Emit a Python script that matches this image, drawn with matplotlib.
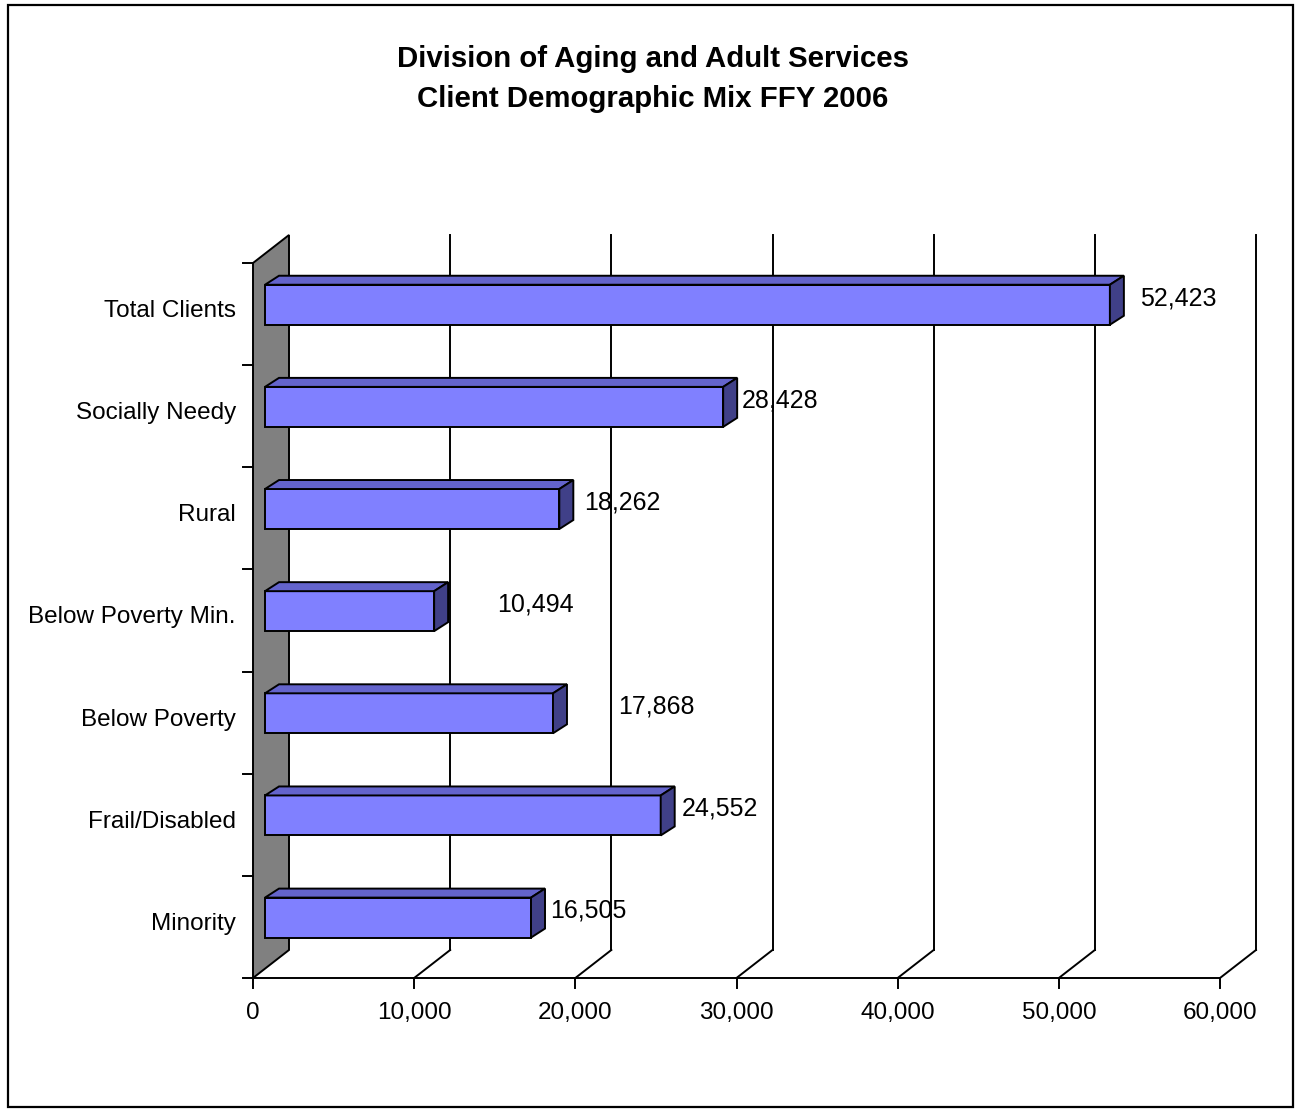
import matplotlib
matplotlib.use("Agg")
import matplotlib.pyplot as plt
from matplotlib.patches import Polygon, Rectangle

plt.rcParams['font.family'] = ['Liberation Sans', 'DejaVu Sans']

# data, bottom to top
categories = ["Minority", "Frail/Disabled", "Below Poverty", "Below Poverty Min.",
              "Rural", "Socially Needy", "Total Clients"]
values = [16505, 24552, 17868, 10494, 18262, 28428, 52423]
# gap between bar end and its data label (manually placed in the original)
label_gap = [1175, 1317, 4031, 3898, 1527, 1163, 1858]
xticks = [0, 10000, 20000, 30000, 40000, 50000, 60000]

# pixel scale of the original picture
W, H = 1296, 1109
x0_px, x60_px = 253, 1220
y0_px, y7_px = 978, 263
sx = (x60_px - x0_px) / 60000.0
sy = (y0_px - y7_px) / 7.0


def px_x(p):
    return p / sx


def px_y(p):
    return p / sy


# 3-d depth of the plot and of the bars
DX, DY = px_x(36), px_y(28)
BX, BY = px_x(14), px_y(9)
OX, OY = DX / 3, DY / 3
bar_h = px_y(40)

face_c = "#8080FF"
top_c = "#6464CC"
side_c = "#404088"
lw = 1.4
fs = 17.5

fig = plt.figure(figsize=(W / 100, H / 100), dpi=100)
ax = fig.add_axes([0, 0, 1, 1])
ax.set_xlim(-x0_px / sx, (W - x0_px) / sx)
ax.set_ylim(-(H - y0_px) / sy, y0_px / sy)
ax.axis("off")

n = len(categories)

# left wall
ax.add_patch(Polygon([(0, 0), (DX, DY), (DX, n + DY), (0, n)], closed=True,
                     facecolor="#808080", edgecolor="black", lw=lw, zorder=1))

# back gridlines and floor
for t in xticks[1:]:
    ax.plot([t + DX, t + DX], [DY, n + DY], color="black", lw=lw, zorder=1)
    ax.plot([t, t + DX], [0, DY], color="black", lw=lw, zorder=1)
ax.plot([0, xticks[-1]], [0, 0], color="black", lw=lw, zorder=1)
for t in xticks:
    ax.plot([t, t], [0, -px_y(10)], color="black", lw=lw, zorder=1)
    ax.text(t, -px_y(35), f"{t:,}", ha="center", va="center", fontsize=fs)
for i in range(n + 1):
    ax.plot([-px_x(10), 0], [i, i], color="black", lw=lw, zorder=1)

# bars
for i, (cat, v) in enumerate(zip(categories, values)):
    yb = i + 0.5 + OY - bar_h / 2
    yt = yb + bar_h
    xa, xb = OX, OX + v
    ax.add_patch(Polygon([(xa, yb), (xb, yb), (xb, yt), (xa, yt)],
                         facecolor=face_c, edgecolor="black", lw=lw, zorder=3))
    ax.add_patch(Polygon([(xa, yt), (xb, yt), (xb + BX, yt + BY), (xa + BX, yt + BY)],
                         facecolor=top_c, edgecolor="black", lw=lw, zorder=3))
    ax.add_patch(Polygon([(xb, yb), (xb + BX, yb + BY), (xb + BX, yt + BY), (xb, yt)],
                         facecolor=side_c, edgecolor="black", lw=lw, zorder=3))
    ax.text(xb + label_gap[i], i + 0.5 + px_y(16), f"{v:,}", ha="left", va="center",
            fontsize=fs + 0.5, zorder=4)
    ax.text(-px_x(17), i + 0.5 + px_y(3), cat, ha="right", va="center", fontsize=fs)

fig.text(0.504, 1 - 59 / H, "Division of Aging and Adult Services", ha="center",
         va="center", fontsize=21.2, fontweight="bold")
fig.text(0.504, 1 - 99 / H, "Client Demographic Mix FFY 2006", ha="center",
         va="center", fontsize=21.2, fontweight="bold")

fig.patches.append(Rectangle((8 / W, 2 / H), (1293 - 8) / W, (1104 - 2) / H,
                             transform=fig.transFigure, fill=False,
                             edgecolor="black", lw=1.6))

fig.savefig("out.png", dpi=100)
